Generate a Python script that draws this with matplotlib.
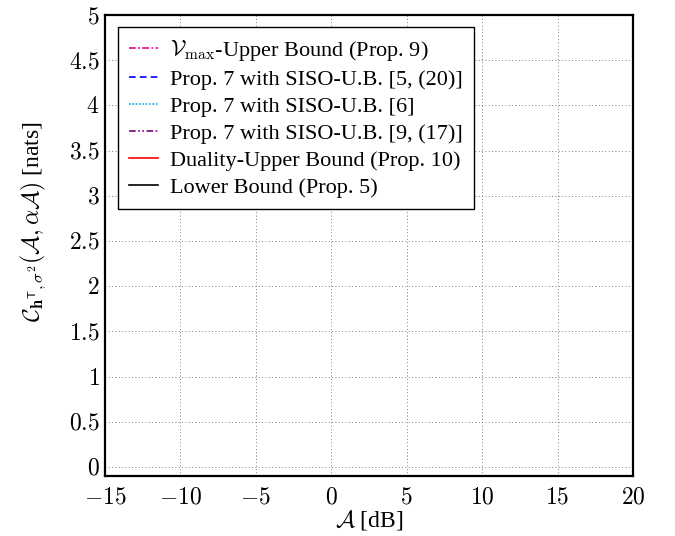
import matplotlib
matplotlib.use("Agg")
import matplotlib.pyplot as plt

plt.rcParams['mathtext.fontset'] = 'cm'
plt.rcParams['font.family'] = ['Liberation Serif', 'DejaVu Serif']

# Data (no curves are visible in the reference; series are empty)
A_dB = []
vmax_upper = []
prop7_siso_5 = []
prop7_siso_6 = []
prop7_siso_9 = []
duality_upper = []
lower_bound = []

labels = [r'$\mathcal{V}_{\max}$-Upper Bound (Prop. 9)',
          'Prop. 7 with SISO-U.B. [5, (20)]',
          'Prop. 7 with SISO-U.B. [6]',
          'Prop. 7 with SISO-U.B. [9, (17)]',
          'Duality-Upper Bound (Prop. 10)',
          'Lower Bound (Prop. 5)']

xticks = [-15, -10, -5, 0, 5, 10, 15, 20]
yticks = [0, 0.5, 1, 1.5, 2, 2.5, 3, 3.5, 4, 4.5, 5]
xticklabels = ['$-15$', '$-10$', '$-5$', '$0$', '$5$', '$10$', '$15$', '$20$']
yticklabels = ['$0$', '$0.5$', '$1$', '$1.5$', '$2$', '$2.5$', '$3$', '$3.5$', '$4$', '$4.5$', '$5$']

fig = plt.figure(figsize=(6.75, 5.36), dpi=100)
ax = fig.add_axes([0.1556, 0.1119, 0.9378 - 0.1556, 0.972 - 0.1119])

ax.plot(A_dB, vmax_upper, color='#ec008c', linestyle=(0, (4, 1.5, 1, 1.5)), lw=1.2, label=labels[0])
ax.plot(A_dB, prop7_siso_5, color='#0000ff', linestyle=(0, (4, 2.5)), lw=1.2, label=labels[1])
ax.plot(A_dB, prop7_siso_6, color='#00aeef', linestyle=(0, (1, 1)), lw=1.2, label=labels[2])
ax.plot(A_dB, prop7_siso_9, color='#800080', linestyle=(0, (4, 1.5, 1, 1.5, 1, 1.5)), lw=1.2, label=labels[3])
ax.plot(A_dB, duality_upper, color='#ff0000', linestyle='-', lw=1.2, label=labels[4])
ax.plot(A_dB, lower_bound, color='#000000', linestyle='-', lw=1.2, label=labels[5])

ax.set_xlim(-15, 20)
ax.set_ylim(-0.1, 5)
ax.set_xticks(xticks)
ax.set_xticklabels(xticklabels, fontsize=17)
ax.set_yticks(yticks)
ax.set_yticklabels(yticklabels, fontsize=17)
ax.tick_params(axis='x', length=0, pad=8)
ax.tick_params(axis='y', length=0, pad=4)
ax.grid(True, linestyle=(0, (1, 3)), color='#555555', lw=0.6)
for s in ax.spines.values():
    s.set_linewidth(1.6)

ax.set_xlabel(r'$\mathcal{A}$ [dB]', fontsize=17, labelpad=0)
ax.set_ylabel(r'$\mathcal{C}_{\mathbf{h}^{\mathsf{T}},\sigma^2}(\mathcal{A},\alpha\mathcal{A})$ [nats]', fontsize=17)
ax.yaxis.set_label_coords(-0.108, 0.551)

leg = ax.legend(loc='upper left', bbox_to_anchor=(0.0246, 0.974), borderaxespad=0,
                prop={'size': 16}, fancybox=False, framealpha=1, edgecolor='black',
                handlelength=1.3, handletextpad=0.55, labelspacing=0.29, borderpad=0.5)
leg.get_frame().set_linewidth(1.0)

fig.savefig('out.png', dpi=100)
